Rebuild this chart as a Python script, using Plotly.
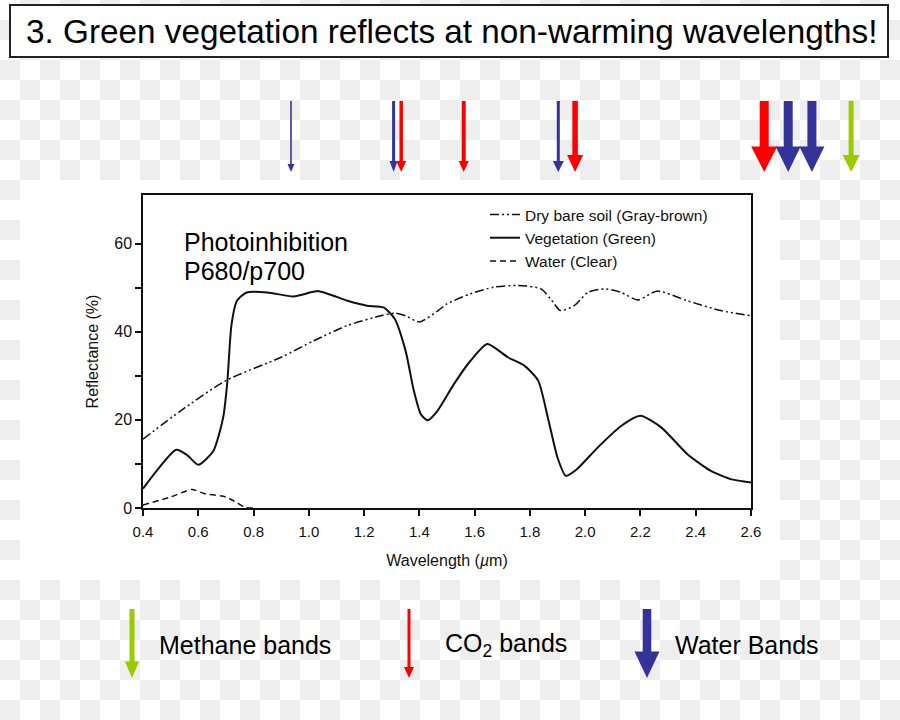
import plotly.graph_objects as go

# ---------------- data ----------------
veg_wl = [0.40, 0.45, 0.52, 0.56, 0.60, 0.655, 0.69, 0.705, 0.72, 0.74, 0.775, 0.85, 0.945,
          1.035, 1.14, 1.21, 1.27, 1.31, 1.35, 1.38, 1.405, 1.43, 1.465, 1.525, 1.585, 1.646,
          1.72, 1.78, 1.83, 1.865, 1.90, 1.93, 1.97, 2.045, 2.13, 2.20, 2.275, 2.37, 2.455,
          2.53, 2.60]
veg_R = [4.4, 8.5, 13.2, 12.0, 9.8, 13.0, 20.5, 28.5, 41.5, 47.0, 48.9, 48.9, 48.0,
         49.2, 47.0, 45.9, 45.5, 43.0, 35.7, 26.6, 21.3, 19.9, 22.0, 28.1, 33.4, 37.2,
         34.2, 32.3, 28.9, 20.5, 11.4, 7.3, 8.8, 13.7, 18.6, 20.9, 18.3, 12.2, 8.4,
         6.5, 5.8]

soil_wl = [0.40, 0.535, 0.70, 0.90, 1.02, 1.14, 1.26, 1.31, 1.35, 1.40, 1.47, 1.50, 1.585,
           1.67, 1.755, 1.84, 1.88, 1.91, 1.96, 2.01, 2.07, 2.13, 2.19, 2.26, 2.37, 2.49, 2.60]
soil_R = [15.6, 22.0, 28.9, 34.2, 38.0, 41.4, 43.6, 44.2, 43.6, 42.2, 44.9, 46.3, 48.6,
          50.1, 50.5, 49.7, 47.0, 44.8, 45.9, 48.9, 49.7, 48.9, 47.2, 49.2, 47.0, 44.8, 43.6]

water_wl = [0.40, 0.50, 0.577, 0.62, 0.70, 0.74, 0.77, 0.80]
water_R = [0.7, 2.5, 4.2, 3.3, 2.5, 1.2, 0.1, 0.0]

series_names = ["Dry bare soil (Gray-brown)", "Vegetation (Green)", "Water (Clear)"]
x_ticks = [0.4, 0.6, 0.8, 1.0, 1.2, 1.4, 1.6, 1.8, 2.0, 2.2, 2.4, 2.6]
y_ticks = [0, 20, 40, 60]

title_text = "3. Green vegetation reflects at non-warming wavelengths!"
band_labels = ["Methane bands", "CO<sub>2</sub> bands", "Water Bands"]

# ---------------- layout geometry (pixels) ----------------
W, H = 900, 720
X0, X1 = 143, 751      # plot area left / right
Y0, YT = 508, 195      # y=0 line / top of frame
RED, BLUE, GREEN = "#ff0000", "#333399", "#99cc00"
FONT = "Liberation Sans, Arial, sans-serif"


def fx(px):
    return (px - X0) / (X1 - X0)


def fy(py):
    return (Y0 - py) / (Y0 - YT)


shapes = []
# checkerboard background (transparent-image placeholder)
for r in range(H // 20):
    for c in range(W // 20 + 1):
        if (r + c) % 2 == 1:
            x0, y0 = c * 20, r * 20
            if 20 <= x0 and x0 + 20 <= 780 and 180 <= y0 and y0 + 20 <= 580:
                continue
            shapes.append(dict(type="rect", xref="paper", yref="paper", layer="below",
                               x0=fx(x0), x1=fx(x0 + 20), y0=fy(y0 + 20), y1=fy(y0),
                               fillcolor="#eeeeee", line_width=0))
# white chart picture
shapes.append(dict(type="rect", xref="paper", yref="paper", layer="below",
                   x0=fx(20), x1=fx(780), y0=fy(580), y1=fy(180),
                   fillcolor="white", line_width=0))
# title box
shapes.append(dict(type="rect", xref="paper", yref="paper", layer="below",
                   x0=fx(10), x1=fx(888), y0=fy(57), y1=fy(5),
                   fillcolor="white", line=dict(color="#222222", width=2)))


def arrow(xc, top, tip, headtop, shaft, headw, color):
    shapes.append(dict(type="rect", xref="paper", yref="paper",
                       x0=fx(xc - shaft / 2), x1=fx(xc + shaft / 2),
                       y0=fy(headtop + 1), y1=fy(top),
                       fillcolor=color, line_width=0))
    path = "M {:.5f},{:.5f} L {:.5f},{:.5f} L {:.5f},{:.5f} Z".format(
        fx(xc - headw / 2), fy(headtop), fx(xc + headw / 2), fy(headtop), fx(xc), fy(tip))
    shapes.append(dict(type="path", xref="paper", yref="paper", path=path,
                       fillcolor=color, line_width=0))


# top absorption-band arrows: (x, head top, shaft width, head width, colour)
top_arrows = [
    (291, 164, 1.6, 7, BLUE),
    (393.6, 161, 3, 8, BLUE),
    (401.2, 161, 3.5, 10, RED),
    (463.7, 161, 4, 10, RED),
    (558.3, 161, 3, 11, BLUE),
    (575.1, 155, 5.5, 16, RED),
    (764.2, 146.5, 9, 26, RED),
    (788.2, 146.5, 9, 25, BLUE),
    (811.9, 146.5, 9, 25, BLUE),
    (851.1, 155, 5, 17, GREEN),
]
for xc, ht, sw, hw, col in top_arrows:
    arrow(xc, 101, 172, ht, sw, hw, col)

# bottom key arrows
arrow(132, 609, 678, 661.5, 5, 14, GREEN)
arrow(409, 609, 678, 667, 3, 10, RED)
arrow(647, 609, 678, 651.5, 8.6, 25, BLUE)

annotations = [
    dict(text=title_text, x=fx(451), y=fy(31), xref="paper", yref="paper",
         showarrow=False, font=dict(family=FONT, size=33.3, color="black"),
         xanchor="center", yanchor="middle"),
    dict(text="Photoinhibition", x=fx(182), y=fy(242), xref="paper", yref="paper",
         showarrow=False, font=dict(family=FONT, size=25, color="black"),
         xanchor="left", yanchor="middle"),
    dict(text="P680/p700", x=fx(182), y=fy(271), xref="paper", yref="paper",
         showarrow=False, font=dict(family=FONT, size=25, color="black"),
         xanchor="left", yanchor="middle"),
]
for lbl, xl in zip(band_labels, [157, 443, 673]):
    annotations.append(dict(text=lbl, x=fx(xl), y=fy(645), xref="paper", yref="paper",
                            showarrow=False, font=dict(family=FONT, size=25, color="black"),
                            xanchor="left", yanchor="middle"))

fig = go.Figure()
fig.add_trace(go.Scatter(x=soil_wl, y=soil_R, mode="lines", name=series_names[0],
                         line=dict(color="#111111", width=1.5, dash="9px,3px,2px,3px,2px,3px",
                                   shape="spline", smoothing=0.7)))
fig.add_trace(go.Scatter(x=veg_wl, y=veg_R, mode="lines", name=series_names[1],
                         line=dict(color="#111111", width=2, shape="spline", smoothing=0.6)))
fig.add_trace(go.Scatter(x=water_wl, y=water_R, mode="lines", name=series_names[2],
                         line=dict(color="#111111", width=1.5, dash="6px,4px",
                                   shape="spline", smoothing=0.6)))

fig.update_layout(
    width=W, height=H,
    margin=dict(l=X0, r=W - X1, t=YT, b=H - Y0, pad=0),
    paper_bgcolor="white", plot_bgcolor="rgba(0,0,0,0)",
    font=dict(family=FONT, color="#111111"),
    showlegend=True,
    legend=dict(x=fx(485), y=fy(198), xref="paper", yref="paper",
                xanchor="left", yanchor="top", bgcolor="rgba(0,0,0,0)",
                font=dict(family=FONT, size=15.5, color="#111111"),
                tracegroupgap=0),
    shapes=shapes,
    annotations=annotations,
    xaxis=dict(range=[0.4, 2.6], tickvals=x_ticks, tickformat=".1f",
               ticks="outside", ticklen=6, tickwidth=1.5, tickcolor="#111111",
               showline=True, linecolor="#111111", linewidth=1.5, mirror=True,
               showgrid=False, zeroline=False, ticklabelstandoff=3,
               tickfont=dict(family=FONT, size=15, color="#111111"),
               title=dict(text="Wavelength (<i>µ</i>m)", standoff=16,
                          font=dict(family=FONT, size=16, color="#111111"))),
    yaxis=dict(range=[0, (Y0 - YT) / 4.408], tickvals=y_ticks,
               ticks="outside", ticklen=6, tickwidth=1.5, tickcolor="#111111",
               minor=dict(tickmode="array", tickvals=[10, 30, 50], ticks="outside",
                          ticklen=6, tickwidth=1.5, tickcolor="#111111"),
               showline=True, linecolor="#111111", linewidth=1.5, mirror=True,
               showgrid=False, zeroline=False,
               tickfont=dict(family=FONT, size=16, color="#111111"),
               title=dict(text="Reflectance (%)", standoff=12,
                          font=dict(family=FONT, size=16, color="#111111"))),
)

fig.write_html("out.html", config={"displayModeBar": False},
               post_script="document.body.style.margin='0px';")
